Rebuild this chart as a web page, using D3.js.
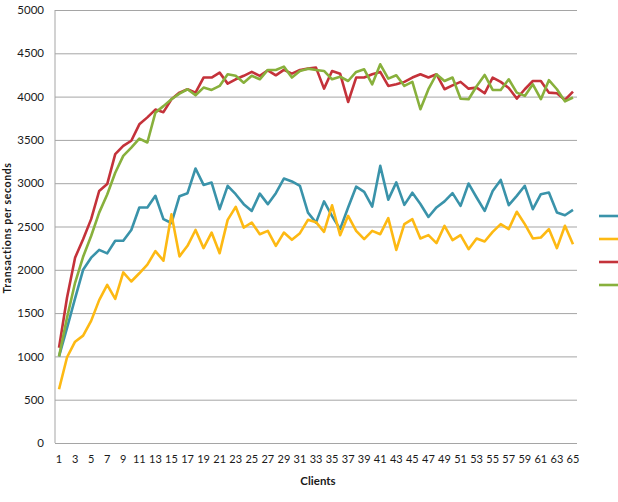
<!DOCTYPE html>
<html>
<head>
<meta charset="utf-8">
<script src="https://cdn.jsdelivr.net/npm/d3@7"></script>
<style>
  html, body { margin: 0; padding: 0; background: #fff; }
  svg { display: block; }
  text { font-family: Lato, "Open Sans", sans-serif; fill: #1a1a1a; }
</style>
</head>
<body>
<svg id="chart" width="618" height="502"></svg>
<script>
const clients = d3.range(1, 66);
const xTickLabels = d3.range(1, 66, 2);
const yTickLabels = [0, 500, 1000, 1500, 2000, 2500, 3000, 3500, 4000, 4500, 5000];

const seriesBlue = [1000,1330,1670,2000,2140,2230,2190,2335,2335,2460,2720,2720,2855,2585,2540,2850,2885,3170,2980,3008,2700,2970,2873,2758,2680,2880,2758,2885,3054,3020,2970,2660,2545,2790,2620,2470,2720,2960,2900,2730,3200,2810,3010,2750,2890,2760,2610,2720,2790,2885,2738,2996,2835,2680,2911,3038,2746,2854,2970,2700,2873,2892,2661,2630,2692];
const seriesYellow = [620,990,1170,1240,1410,1650,1825,1665,1970,1865,1960,2060,2215,2105,2640,2155,2277,2460,2250,2430,2192,2577,2727,2488,2546,2411,2450,2277,2430,2346,2423,2577,2550,2438,2745,2400,2623,2450,2354,2450,2411,2596,2230,2527,2585,2362,2400,2308,2508,2342,2400,2238,2362,2327,2438,2527,2470,2670,2527,2362,2373,2470,2250,2508,2296];
const seriesRed = [1100,1680,2140,2354,2585,2910,2990,3335,3430,3490,3680,3760,3850,3820,3970,4046,4085,4046,4220,4220,4277,4150,4200,4240,4285,4240,4304,4246,4308,4265,4308,4323,4335,4092,4296,4265,3938,4220,4220,4258,4285,4123,4142,4170,4220,4258,4220,4258,4085,4130,4170,4092,4104,4038,4220,4170,4100,3977,4085,4180,4180,4046,4038,3962,4058];
const seriesGreen = [1000,1450,1850,2150,2390,2660,2870,3120,3315,3410,3515,3470,3815,3890,3970,4035,4085,4015,4104,4077,4123,4258,4240,4160,4240,4200,4308,4308,4346,4220,4296,4323,4308,4296,4200,4230,4180,4285,4315,4142,4373,4207,4246,4123,4170,3854,4085,4258,4180,4220,3975,3970,4120,4250,4077,4077,4200,4046,4008,4142,3970,4190,4085,3945,3990];

const series = [
  { values: seriesBlue,   color: "#3a93aa" },
  { values: seriesYellow, color: "#fdb913" },
  { values: seriesRed,    color: "#c4323a" },
  { values: seriesGreen,  color: "#88b03c" }
];

const svg = d3.select("#chart");
const mLeft = 55, mRight = 577, mTop = 10, mBottom = 443;

const x = d3.scaleBand().domain(clients).range([mLeft, mRight]).padding(0);
const xc = c => x(c) + x.bandwidth() / 2;
const y = d3.scaleLinear().domain([0, 5000]).range([mBottom, mTop]);

// gridlines
const grid = svg.append("g").attr("transform", `translate(${mLeft},0)`)
  .call(d3.axisLeft(y).tickValues(yTickLabels).tickSize(-(mRight - mLeft)).tickFormat(""));
grid.select(".domain").remove();
grid.selectAll("line").attr("stroke", "#a5a5a5").attr("stroke-width", 1);

// y axis line
svg.append("line").attr("x1", mLeft).attr("x2", mLeft).attr("y1", mTop).attr("y2", mBottom)
  .attr("stroke", "#a5a5a5").attr("stroke-width", 1);

// y axis labels
const yAxis = svg.append("g").attr("transform", `translate(${mLeft},0)`)
  .call(d3.axisLeft(y).tickValues(yTickLabels).tickSize(0).tickPadding(11).tickFormat(d3.format("d")));
yAxis.select(".domain").remove();
yAxis.selectAll("text").style("font-size", "11.5px").style("font-family", "Lato, sans-serif").attr("fill", "#1a1a1a");

// x axis labels
const xAxis = svg.append("g").attr("transform", `translate(0,${mBottom})`)
  .call(d3.axisBottom(x).tickValues(xTickLabels).tickSize(0).tickPadding(12));
xAxis.select(".domain").remove();
xAxis.selectAll("text").style("font-size", "11px").style("font-family", "Lato, sans-serif").attr("fill", "#1a1a1a");

// lines
const line = d3.line().x((d, i) => xc(clients[i])).y(d => y(d));
series.forEach(s => {
  svg.append("path").datum(s.values)
    .attr("fill", "none").attr("stroke", s.color).attr("stroke-width", 2.6)
    .attr("stroke-linejoin", "round").attr("d", line);
});

// legend (labels fall outside the visible area)
const legendY = d3.scalePoint().domain(d3.range(series.length)).range([216, 285]);
series.forEach((s, i) => {
  svg.append("line").attr("x1", 599).attr("x2", 625)
    .attr("y1", legendY(i)).attr("y2", legendY(i))
    .attr("stroke", s.color).attr("stroke-width", 2.6);
});

// axis titles
svg.append("text").attr("x", 318).attr("y", 485).attr("text-anchor", "middle")
  .style("font-size", "11.5px").style("font-weight", "bold").text("Clients");
svg.append("text").attr("transform", "translate(11,228) rotate(-90)").attr("text-anchor", "middle")
  .style("font-size", "10.5px").style("font-weight", "bold").style("letter-spacing", "0.6px")
  .text("Transactions per seconds");
</script>
</body>
</html>
